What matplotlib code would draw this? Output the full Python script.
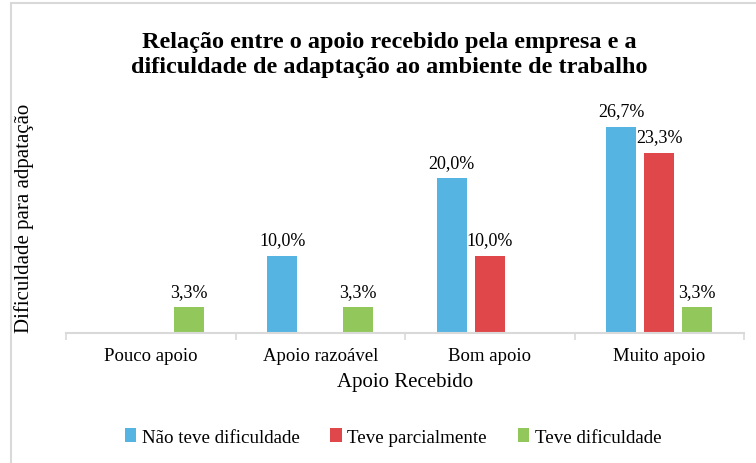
import numpy as np
import matplotlib
matplotlib.use("Agg")
from matplotlib import pyplot as plt
from matplotlib.patches import Rectangle

plt.rcParams['font.family'] = ['Liberation Serif', 'DejaVu Serif']

categorias = ["Pouco apoio", "Apoio razoável", "Bom apoio", "Muito apoio"]
series = ["Não teve dificuldade", "Teve parcialmente", "Teve dificuldade"]
nao_teve = [0.0, 10.0, 20.0, 26.7]
parcial = [0.0, 0.0, 10.0, 23.3]
teve = [3.3, 3.3, 0.0, 3.3]
cores = ["#56B4E2", "#E0474B", "#92C85B"]

fig = plt.figure(figsize=(7.56, 4.64), dpi=100)
# moldura cinza (cortada na direita/baixo)
fig.patches.append(Rectangle((11 / 756, -0.1), 2.0, 1.1 - 4 / 464, transform=fig.transFigure,
                             fill=False, edgecolor="#D9D9D9", linewidth=1.5))

ax = fig.add_axes([66 / 756, 1 - 334 / 464, (744 - 66) / 756, (334 - 102) / 464])

x = np.arange(len(categorias))
w = 0.177
passo = 0.224
for i, (vals, nome) in enumerate(zip([nao_teve, parcial, teve], series)):
    pos = x + (i - 1) * passo
    bars = ax.bar(pos, vals, width=w, color=cores[i], label=nome)
    for b, v in zip(bars, vals):
        if v > 0:
            ax.text(b.get_x() + b.get_width() / 2, v + 1.0, f"{v:.1f}%".replace(".", ","),
                    ha="center", va="bottom", fontsize=13)

ax.set_xlim(-0.5, 3.5)
ax.set_ylim(0, 30)
ax.set_yticks([])
ax.set_xticks(x)
ax.set_xticklabels(categorias, fontsize=13.5)
ax.tick_params(axis="x", length=0, pad=10)
ax.set_xticks(np.arange(-0.5, 4.0, 1.0), minor=True)
ax.tick_params(axis="x", which="minor", length=5, color="#D9D9D9", width=1.2)
for s in ["top", "right", "left"]:
    ax.spines[s].set_visible(False)
ax.spines["bottom"].set_color("#D9D9D9")
ax.spines["bottom"].set_linewidth(1.5)

ax.set_xlabel("Apoio Recebido", fontsize=15, labelpad=6)
ax.set_ylabel("Dificuldade para adpatação", fontsize=15, labelpad=23)

fig.text(0.515, 1 - 55 / 464, "Relação entre o apoio recebido pela empresa e a\ndificuldade de adaptação ao ambiente de trabalho",
         ha="center", va="center", fontsize=17.5, fontweight="bold", linespacing=1.25)

fig.legend(loc="center", bbox_to_anchor=(0.52, 1 - 438 / 464), ncol=3, frameon=False,
           fontsize=13.7, handlelength=0.6, handleheight=0.7, handletextpad=0.3, columnspacing=1.6)

fig.savefig("out.png", dpi=100)
